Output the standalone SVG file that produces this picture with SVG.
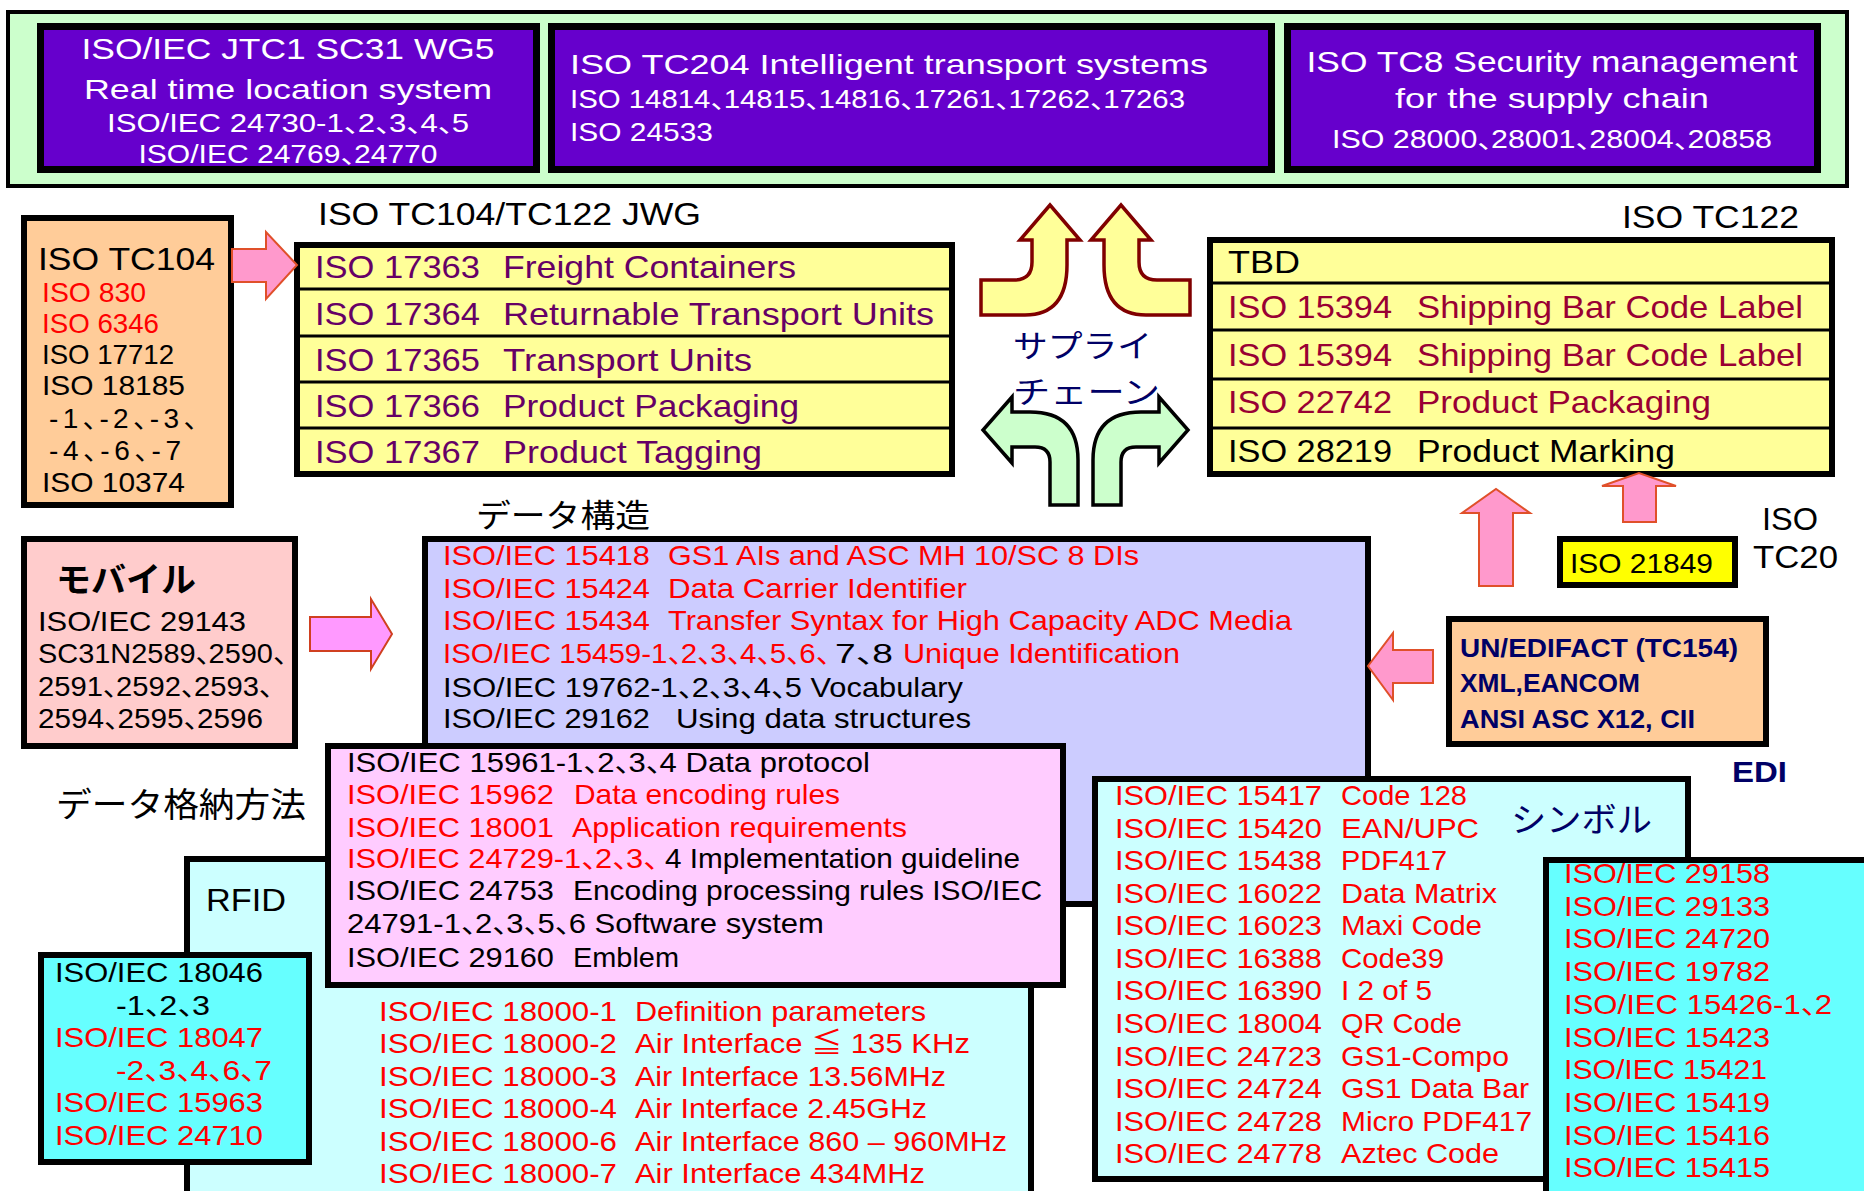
<svg xmlns="http://www.w3.org/2000/svg" width="1864" height="1191" viewBox="0 0 1864 1191">
<style>
text{font-family:'Liberation Sans','Noto Sans CJK JP',sans-serif;white-space:pre}
.jp{font-family:'Noto Sans CJK JP',sans-serif}
.c{letter-spacing:-0.55em}
.s25{font-size:25px}.s26{font-size:26px}.s28{font-size:28px}.s29{font-size:29px}.s30{font-size:30px}.s31{font-size:31px}.s32{font-size:32px}.s34{font-size:34px}
.w{fill:#ffffff}.k{fill:#000000}.r{fill:#ff0000}.p{fill:#660066}.dr{fill:#990033}.n{fill:#000066}
.b{font-weight:bold}
.bx{stroke:#000000;stroke-width:6}
.sep{stroke:#000000;stroke-width:3}
.pk{fill:#ff99cc;stroke:#e0502a;stroke-width:2}
.mg{fill:#ff99ff;stroke:#d04020;stroke-width:2}
.ya{fill:#ffff99;stroke:#800000;stroke-width:3.5}
.ga{fill:#ccffcc;stroke:#000000;stroke-width:3.5}
</style>
<rect width="1864" height="1191" fill="#ffffff"/>

<g id="top-band">
<rect x="8" y="12" width="1839" height="174" fill="#ccffcc" stroke="#000" stroke-width="4"/>
</g>
<g id="jtc1">
<rect x="40.5" y="26.5" width="496" height="143" fill="#6600cc" stroke="#000" stroke-width="7"/>
<text class="s29 w" x="288" y="59" text-anchor="middle" textLength="413" lengthAdjust="spacingAndGlyphs">ISO/IEC JTC1 SC31 WG5</text>
<text class="s28 w" x="288" y="99" text-anchor="middle" textLength="408" lengthAdjust="spacingAndGlyphs">Real time location system</text>
<text class="s25 w" x="288" y="132" text-anchor="middle" textLength="362" lengthAdjust="spacingAndGlyphs">ISO/IEC 24730-1<tspan class="c">、</tspan>2<tspan class="c">、</tspan>3<tspan class="c">、</tspan>4<tspan class="c">、</tspan>5</text>
<text class="s25 w" x="288" y="163" text-anchor="middle" textLength="299" lengthAdjust="spacingAndGlyphs">ISO/IEC 24769<tspan class="c">、</tspan>24770</text>
</g>
<g id="tc204">
<rect x="551.5" y="26.5" width="720" height="143" fill="#6600cc" stroke="#000" stroke-width="7"/>
<text class="s28 w" x="570" y="74" textLength="638" lengthAdjust="spacingAndGlyphs">ISO TC204 Intelligent transport systems</text>
<text class="s25 w" x="570" y="108" textLength="615" lengthAdjust="spacingAndGlyphs">ISO 14814<tspan class="c">、</tspan>14815<tspan class="c">、</tspan>14816<tspan class="c">、</tspan>17261<tspan class="c">、</tspan>17262<tspan class="c">、</tspan>17263</text>
<text class="s25 w" x="570" y="141" textLength="143" lengthAdjust="spacingAndGlyphs">ISO 24533</text>
</g>
<g id="tc8">
<rect x="1287.5" y="26.5" width="530" height="143" fill="#6600cc" stroke="#000" stroke-width="7"/>
<text class="s29 w" x="1552" y="72" text-anchor="middle" textLength="491" lengthAdjust="spacingAndGlyphs">ISO TC8 Security management</text>
<text class="s28 w" x="1552" y="108" text-anchor="middle" textLength="314" lengthAdjust="spacingAndGlyphs">for the supply chain</text>
<text class="s25 w" x="1552" y="148" text-anchor="middle" textLength="440" lengthAdjust="spacingAndGlyphs">ISO 28000<tspan class="c">、</tspan>28001<tspan class="c">、</tspan>28004<tspan class="c">、</tspan>20858</text>
</g>

<g id="labels">
<text class="s32 k" x="318" y="225" textLength="383" lengthAdjust="spacingAndGlyphs">ISO TC104/TC122 JWG</text>
<text class="s32 k" x="1622" y="228" textLength="177" lengthAdjust="spacingAndGlyphs">ISO TC122</text>
<text class="jp s32 k" x="476" y="527" textLength="174" lengthAdjust="spacingAndGlyphs">データ構造</text>
<text class="jp s34 k" x="56" y="817" textLength="250" lengthAdjust="spacingAndGlyphs">データ格納方法</text>
<text class="jp s31 n" x="1013" y="357" textLength="139" lengthAdjust="spacingAndGlyphs">サプライ</text>
<text class="jp s31 n" x="1013" y="403" textLength="147" lengthAdjust="spacingAndGlyphs">チェーン</text>
<text class="s32 k" x="1762" y="530" textLength="56" lengthAdjust="spacingAndGlyphs">ISO</text>
<text class="s32 k" x="1753" y="568" textLength="85" lengthAdjust="spacingAndGlyphs">TC20</text>
<text class="s30 n b" x="1732" y="782" textLength="55" lengthAdjust="spacingAndGlyphs">EDI</text>
</g>

<g id="tc104">
<rect x="24" y="218" width="207" height="287" fill="#ffcc99" class="bx"/>
<text class="s32 k" x="38" y="270" textLength="177" lengthAdjust="spacingAndGlyphs">ISO TC104</text>
<text class="s28 r" x="42" y="302" textLength="104" lengthAdjust="spacingAndGlyphs">ISO 830</text>
<text class="s28 r" x="42" y="333" textLength="117" lengthAdjust="spacingAndGlyphs">ISO 6346</text>
<text class="s28 k" x="42" y="364" textLength="132" lengthAdjust="spacingAndGlyphs">ISO 17712</text>
<text class="s28 k" x="42" y="395" textLength="143" lengthAdjust="spacingAndGlyphs">ISO 18185</text>
<text class="s28 k" x="49" y="428" textLength="147" lengthAdjust="spacing">-1<tspan class="c">、</tspan>-2<tspan class="c">、</tspan>-3<tspan class="c">、</tspan></text>
<text class="s28 k" x="49" y="460" textLength="132" lengthAdjust="spacing">-4<tspan class="c">、</tspan>-6<tspan class="c">、</tspan>-7</text>
<text class="s28 k" x="42" y="492" textLength="143" lengthAdjust="spacingAndGlyphs">ISO 10374</text>
</g>

<g id="jwg">
<rect x="297" y="245" width="655" height="229" fill="#ffff99" class="bx"/>
<line x1="297" y1="289" x2="952" y2="289" class="sep"/>
<line x1="297" y1="336" x2="952" y2="336" class="sep"/>
<line x1="297" y1="382" x2="952" y2="382" class="sep"/>
<line x1="297" y1="428" x2="952" y2="428" class="sep"/>
<text class="s32 p" x="315" y="278" textLength="165" lengthAdjust="spacingAndGlyphs">ISO 17363</text>
<text class="s32 p" x="503" y="278" textLength="293" lengthAdjust="spacingAndGlyphs">Freight Containers</text>
<text class="s32 p" x="315" y="325" textLength="165" lengthAdjust="spacingAndGlyphs">ISO 17364</text>
<text class="s32 p" x="503" y="325" textLength="431" lengthAdjust="spacingAndGlyphs">Returnable Transport Units</text>
<text class="s32 p" x="315" y="371" textLength="165" lengthAdjust="spacingAndGlyphs">ISO 17365</text>
<text class="s32 p" x="503" y="371" textLength="249" lengthAdjust="spacingAndGlyphs">Transport Units</text>
<text class="s32 p" x="315" y="417" textLength="165" lengthAdjust="spacingAndGlyphs">ISO 17366</text>
<text class="s32 p" x="503" y="417" textLength="296" lengthAdjust="spacingAndGlyphs">Product Packaging</text>
<text class="s32 p" x="315" y="463" textLength="165" lengthAdjust="spacingAndGlyphs">ISO 17367</text>
<text class="s32 p" x="503" y="463" textLength="259" lengthAdjust="spacingAndGlyphs">Product Tagging</text>
</g>

<g id="tc122">
<rect x="1210" y="240" width="622" height="234" fill="#ffff99" class="bx"/>
<line x1="1210" y1="283" x2="1832" y2="283" class="sep"/>
<line x1="1210" y1="330" x2="1832" y2="330" class="sep"/>
<line x1="1210" y1="379" x2="1832" y2="379" class="sep"/>
<line x1="1210" y1="428" x2="1832" y2="428" class="sep"/>
<text class="s32 k" x="1228" y="273" textLength="72" lengthAdjust="spacingAndGlyphs">TBD</text>
<text class="s32 dr" x="1228" y="318" textLength="164" lengthAdjust="spacingAndGlyphs">ISO 15394</text>
<text class="s32 dr" x="1417" y="318" textLength="386" lengthAdjust="spacingAndGlyphs">Shipping Bar Code Label</text>
<text class="s32 dr" x="1228" y="366" textLength="164" lengthAdjust="spacingAndGlyphs">ISO 15394</text>
<text class="s32 dr" x="1417" y="366" textLength="386" lengthAdjust="spacingAndGlyphs">Shipping Bar Code Label</text>
<text class="s32 dr" x="1228" y="413" textLength="164" lengthAdjust="spacingAndGlyphs">ISO 22742</text>
<text class="s32 dr" x="1417" y="413" textLength="294" lengthAdjust="spacingAndGlyphs">Product Packaging</text>
<text class="s32 k" x="1228" y="462" textLength="164" lengthAdjust="spacingAndGlyphs">ISO 28219</text>
<text class="s32 k" x="1417" y="462" textLength="258" lengthAdjust="spacingAndGlyphs">Product Marking</text>
</g>

<g id="mobile">
<rect x="24" y="539" width="271" height="207" fill="#ffcccc" class="bx"/>
<text class="jp s34 k b" x="56" y="592" textLength="140" lengthAdjust="spacingAndGlyphs">モバイル</text>
<text class="s28 k" x="38" y="631" textLength="208" lengthAdjust="spacingAndGlyphs">ISO/IEC 29143</text>
<text class="s28 k" x="38" y="663" textLength="248" lengthAdjust="spacingAndGlyphs">SC31N2589<tspan class="c">、</tspan>2590<tspan class="c">、</tspan></text>
<text class="s28 k" x="38" y="696" textLength="234" lengthAdjust="spacingAndGlyphs">2591<tspan class="c">、</tspan>2592<tspan class="c">、</tspan>2593<tspan class="c">、</tspan></text>
<text class="s28 k" x="38" y="728" textLength="225" lengthAdjust="spacingAndGlyphs">2594<tspan class="c">、</tspan>2595<tspan class="c">、</tspan>2596</text>
</g>

<g id="data-structure">
<rect x="425" y="539" width="943" height="365" fill="#ccccff" class="bx"/>
<text class="s28 r" x="443" y="565" textLength="207" lengthAdjust="spacingAndGlyphs">ISO/IEC 15418</text>
<text class="s28 r" x="668" y="565" textLength="471" lengthAdjust="spacingAndGlyphs">GS1 AIs and ASC MH 10/SC 8 DIs</text>
<text class="s28 r" x="443" y="598" textLength="207" lengthAdjust="spacingAndGlyphs">ISO/IEC 15424</text>
<text class="s28 r" x="668" y="598" textLength="299" lengthAdjust="spacingAndGlyphs">Data Carrier Identifier</text>
<text class="s28 r" x="443" y="630" textLength="207" lengthAdjust="spacingAndGlyphs">ISO/IEC 15434</text>
<text class="s28 r" x="668" y="630" textLength="624" lengthAdjust="spacingAndGlyphs">Transfer Syntax for High Capacity ADC Media</text>
<text class="s28 r" x="443" y="663" textLength="386" lengthAdjust="spacingAndGlyphs">ISO/IEC 15459-1<tspan class="c">、</tspan>2<tspan class="c">、</tspan>3<tspan class="c">、</tspan>4<tspan class="c">、</tspan>5<tspan class="c">、</tspan>6<tspan class="c">、</tspan></text>
<text class="s28 k" x="835" y="663" textLength="58" lengthAdjust="spacingAndGlyphs">7<tspan class="c">、</tspan>8</text>
<text class="s28 r" x="903" y="663" textLength="277" lengthAdjust="spacingAndGlyphs">Unique Identification</text>
<text class="s28 k" x="443" y="697" textLength="520" lengthAdjust="spacingAndGlyphs">ISO/IEC 19762-1<tspan class="c">、</tspan>2<tspan class="c">、</tspan>3<tspan class="c">、</tspan>4<tspan class="c">、</tspan>5 Vocabulary</text>
<text class="s28 k" x="443" y="728" textLength="207" lengthAdjust="spacingAndGlyphs">ISO/IEC 29162</text>
<text class="s28 k" x="676" y="728" textLength="295" lengthAdjust="spacingAndGlyphs">Using data structures</text>
</g>

<g id="rfid">
<rect x="187" y="859" width="844" height="345" fill="#ccffff" class="bx"/>
<text class="s32 k" x="206" y="911" textLength="80" lengthAdjust="spacingAndGlyphs">RFID</text>
<text class="s28 r" x="379" y="1021" textLength="238" lengthAdjust="spacingAndGlyphs">ISO/IEC 18000-1</text>
<text class="s28 r" x="635" y="1021" textLength="291" lengthAdjust="spacingAndGlyphs">Definition parameters</text>
<text class="s28 r" x="379" y="1053" textLength="238" lengthAdjust="spacingAndGlyphs">ISO/IEC 18000-2</text>
<text class="s28 r" x="635" y="1053" textLength="335" lengthAdjust="spacingAndGlyphs">Air Interface ≦ 135 KHz</text>
<text class="s28 r" x="379" y="1086" textLength="238" lengthAdjust="spacingAndGlyphs">ISO/IEC 18000-3</text>
<text class="s28 r" x="635" y="1086" textLength="311" lengthAdjust="spacingAndGlyphs">Air Interface 13.56MHz</text>
<text class="s28 r" x="379" y="1118" textLength="238" lengthAdjust="spacingAndGlyphs">ISO/IEC 18000-4</text>
<text class="s28 r" x="635" y="1118" textLength="292" lengthAdjust="spacingAndGlyphs">Air Interface 2.45GHz</text>
<text class="s28 r" x="379" y="1151" textLength="238" lengthAdjust="spacingAndGlyphs">ISO/IEC 18000-6</text>
<text class="s28 r" x="635" y="1151" textLength="372" lengthAdjust="spacingAndGlyphs">Air Interface 860 – 960MHz</text>
<text class="s28 r" x="379" y="1183" textLength="238" lengthAdjust="spacingAndGlyphs">ISO/IEC 18000-7</text>
<text class="s28 r" x="635" y="1183" textLength="290" lengthAdjust="spacingAndGlyphs">Air Interface 434MHz</text>
</g>

<g id="data-storage">
<rect x="328" y="746" width="735" height="239" fill="#ffccff" class="bx"/>
<text class="s28 k" x="347" y="772" textLength="523" lengthAdjust="spacingAndGlyphs">ISO/IEC 15961-1<tspan class="c">、</tspan>2<tspan class="c">、</tspan>3<tspan class="c">、</tspan>4 Data protocol</text>
<text class="s28 r" x="347" y="804" textLength="207" lengthAdjust="spacingAndGlyphs">ISO/IEC 15962</text>
<text class="s28 r" x="574" y="804" textLength="266" lengthAdjust="spacingAndGlyphs">Data encoding rules</text>
<text class="s28 r" x="347" y="837" textLength="207" lengthAdjust="spacingAndGlyphs">ISO/IEC 18001</text>
<text class="s28 r" x="572" y="837" textLength="335" lengthAdjust="spacingAndGlyphs">Application requirements</text>
<text class="s28 r" x="347" y="868" textLength="310" lengthAdjust="spacingAndGlyphs">ISO/IEC 24729-1<tspan class="c">、</tspan>2<tspan class="c">、</tspan>3<tspan class="c">、</tspan></text>
<text class="s28 k" x="665" y="868" textLength="355" lengthAdjust="spacingAndGlyphs">4 Implementation guideline</text>
<text class="s28 k" x="347" y="900" textLength="207" lengthAdjust="spacingAndGlyphs">ISO/IEC 24753</text>
<text class="s28 k" x="573" y="900" textLength="469" lengthAdjust="spacingAndGlyphs">Encoding processing rules ISO/IEC</text>
<text class="s28 k" x="347" y="933" textLength="477" lengthAdjust="spacingAndGlyphs">24791-1<tspan class="c">、</tspan>2<tspan class="c">、</tspan>3<tspan class="c">、</tspan>5<tspan class="c">、</tspan>6 Software system</text>
<text class="s28 k" x="347" y="967" textLength="207" lengthAdjust="spacingAndGlyphs">ISO/IEC 29160</text>
<text class="s28 k" x="573" y="967" textLength="106" lengthAdjust="spacingAndGlyphs">Emblem</text>
</g>

<g id="rfid-other">
<rect x="41" y="955" width="268" height="207" fill="#66ffff" class="bx"/>
<text class="s28 k" x="55" y="982" textLength="208" lengthAdjust="spacingAndGlyphs">ISO/IEC 18046</text>
<text class="s28 k" x="116" y="1015" textLength="94" lengthAdjust="spacingAndGlyphs">-1<tspan class="c">、</tspan>2<tspan class="c">、</tspan>3</text>
<text class="s28 r" x="55" y="1047" textLength="208" lengthAdjust="spacingAndGlyphs">ISO/IEC 18047</text>
<text class="s28 r" x="116" y="1080" textLength="156" lengthAdjust="spacingAndGlyphs">-2<tspan class="c">、</tspan>3<tspan class="c">、</tspan>4<tspan class="c">、</tspan>6<tspan class="c">、</tspan>7</text>
<text class="s28 r" x="55" y="1112" textLength="208" lengthAdjust="spacingAndGlyphs">ISO/IEC 15963</text>
<text class="s28 r" x="55" y="1145" textLength="208" lengthAdjust="spacingAndGlyphs">ISO/IEC 24710</text>
</g>

<g id="symbol">
<rect x="1095" y="779" width="593" height="400" fill="#ccffff" class="bx"/>
<text class="jp s34 n" x="1511" y="832" textLength="141" lengthAdjust="spacingAndGlyphs">シンボル</text>
<text class="s28 r" x="1115" y="805" textLength="207" lengthAdjust="spacingAndGlyphs">ISO/IEC 15417</text>
<text class="s28 r" x="1341" y="805" textLength="126" lengthAdjust="spacingAndGlyphs">Code 128</text>
<text class="s28 r" x="1115" y="838" textLength="207" lengthAdjust="spacingAndGlyphs">ISO/IEC 15420</text>
<text class="s28 r" x="1341" y="838" textLength="138" lengthAdjust="spacingAndGlyphs">EAN/UPC</text>
<text class="s28 r" x="1115" y="870" textLength="207" lengthAdjust="spacingAndGlyphs">ISO/IEC 15438</text>
<text class="s28 r" x="1341" y="870" textLength="106" lengthAdjust="spacingAndGlyphs">PDF417</text>
<text class="s28 r" x="1115" y="903" textLength="207" lengthAdjust="spacingAndGlyphs">ISO/IEC 16022</text>
<text class="s28 r" x="1341" y="903" textLength="156" lengthAdjust="spacingAndGlyphs">Data Matrix</text>
<text class="s28 r" x="1115" y="935" textLength="207" lengthAdjust="spacingAndGlyphs">ISO/IEC 16023</text>
<text class="s28 r" x="1341" y="935" textLength="141" lengthAdjust="spacingAndGlyphs">Maxi Code</text>
<text class="s28 r" x="1115" y="968" textLength="207" lengthAdjust="spacingAndGlyphs">ISO/IEC 16388</text>
<text class="s28 r" x="1341" y="968" textLength="103" lengthAdjust="spacingAndGlyphs">Code39</text>
<text class="s28 r" x="1115" y="1000" textLength="207" lengthAdjust="spacingAndGlyphs">ISO/IEC 16390</text>
<text class="s28 r" x="1341" y="1000" textLength="91" lengthAdjust="spacingAndGlyphs">I 2 of 5</text>
<text class="s28 r" x="1115" y="1033" textLength="207" lengthAdjust="spacingAndGlyphs">ISO/IEC 18004</text>
<text class="s28 r" x="1341" y="1033" textLength="121" lengthAdjust="spacingAndGlyphs">QR Code</text>
<text class="s28 r" x="1115" y="1066" textLength="207" lengthAdjust="spacingAndGlyphs">ISO/IEC 24723</text>
<text class="s28 r" x="1341" y="1066" textLength="168" lengthAdjust="spacingAndGlyphs">GS1-Compo</text>
<text class="s28 r" x="1115" y="1098" textLength="207" lengthAdjust="spacingAndGlyphs">ISO/IEC 24724</text>
<text class="s28 r" x="1341" y="1098" textLength="188" lengthAdjust="spacingAndGlyphs">GS1 Data Bar</text>
<text class="s28 r" x="1115" y="1131" textLength="207" lengthAdjust="spacingAndGlyphs">ISO/IEC 24728</text>
<text class="s28 r" x="1341" y="1131" textLength="191" lengthAdjust="spacingAndGlyphs">Micro PDF417</text>
<text class="s28 r" x="1115" y="1163" textLength="207" lengthAdjust="spacingAndGlyphs">ISO/IEC 24778</text>
<text class="s28 r" x="1341" y="1163" textLength="158" lengthAdjust="spacingAndGlyphs">Aztec Code</text>
</g>

<g id="symbol-other">
<rect x="1546" y="860" width="330" height="345" fill="#66ffff" class="bx"/>
<text class="s28 r" x="1564" y="883" textLength="206" lengthAdjust="spacingAndGlyphs">ISO/IEC 29158</text>
<text class="s28 r" x="1564" y="916" textLength="206" lengthAdjust="spacingAndGlyphs">ISO/IEC 29133</text>
<text class="s28 r" x="1564" y="948" textLength="206" lengthAdjust="spacingAndGlyphs">ISO/IEC 24720</text>
<text class="s28 r" x="1564" y="981" textLength="206" lengthAdjust="spacingAndGlyphs">ISO/IEC 19782</text>
<text class="s28 r" x="1564" y="1014" textLength="268" lengthAdjust="spacingAndGlyphs">ISO/IEC 15426-1<tspan class="c">、</tspan>2</text>
<text class="s28 r" x="1564" y="1047" textLength="206" lengthAdjust="spacingAndGlyphs">ISO/IEC 15423</text>
<text class="s28 r" x="1564" y="1079" textLength="203" lengthAdjust="spacingAndGlyphs">ISO/IEC 15421</text>
<text class="s28 r" x="1564" y="1112" textLength="206" lengthAdjust="spacingAndGlyphs">ISO/IEC 15419</text>
<text class="s28 r" x="1564" y="1145" textLength="206" lengthAdjust="spacingAndGlyphs">ISO/IEC 15416</text>
<text class="s28 r" x="1564" y="1177" textLength="206" lengthAdjust="spacingAndGlyphs">ISO/IEC 15415</text>
</g>

<g id="edi">
<rect x="1449" y="619" width="317" height="125" fill="#ffcc99" class="bx"/>
<text class="s26 n b" x="1460" y="657" textLength="278" lengthAdjust="spacingAndGlyphs">UN/EDIFACT (TC154)</text>
<text class="s26 n b" x="1460" y="692" textLength="180" lengthAdjust="spacingAndGlyphs">XML,EANCOM</text>
<text class="s26 n b" x="1460" y="728" textLength="235" lengthAdjust="spacingAndGlyphs">ANSI ASC X12, CII</text>
</g>

<g id="iso21849">
<rect x="1560" y="539" width="175" height="46" fill="#ffff00" class="bx"/>
<text class="s28 k" x="1570" y="573" textLength="143" lengthAdjust="spacingAndGlyphs">ISO 21849</text>
</g>

<g id="connectors">
<path class="pk" d="M232,249 L266,249 L266,232 L297,265 L266,299 L266,282 L232,282 Z"/>
<path class="mg" d="M310,617 L371,617 L371,599 L392,634 L371,669 L371,651 L310,651 Z"/>
<path class="pk" d="M1433,650 L1393,650 L1393,633 L1368,666 L1393,700 L1393,683 L1433,683 Z"/>
<path class="pk" d="M1479,586 L1479,513 L1462,513 L1496,489 L1530,513 L1513,513 L1513,586 Z"/>
<path class="pk" d="M1623,522 L1623,486 L1602,486 L1639,473 L1676,486 L1656,486 L1656,522 Z"/>
<path class="ya" d="M981,280 L1014,280 Q1032,280 1032,262 L1032,240 L1020,240 L1050,205 L1080,240 L1067,240 L1067,265 Q1067,315 1025,315 L981,315 Z"/>
<path class="ya" d="M1190,280 L1157,280 Q1139,280 1139,262 L1139,240 L1151,240 L1121,205 L1091,240 L1104,240 L1104,265 Q1104,315 1146,315 L1190,315 Z"/>
<path class="ga" d="M1050,505 L1050,462 Q1050,447 1035,447 L1012,447 L1012,463 L983,430 L1012,397 L1012,412 L1030,412 Q1078,412 1078,460 L1078,505 Z"/>
<path class="ga" d="M1121,505 L1121,462 Q1121,447 1136,447 L1159,447 L1159,463 L1188,430 L1159,397 L1159,412 L1141,412 Q1093,412 1093,460 L1093,505 Z"/>
</g>
</svg>
